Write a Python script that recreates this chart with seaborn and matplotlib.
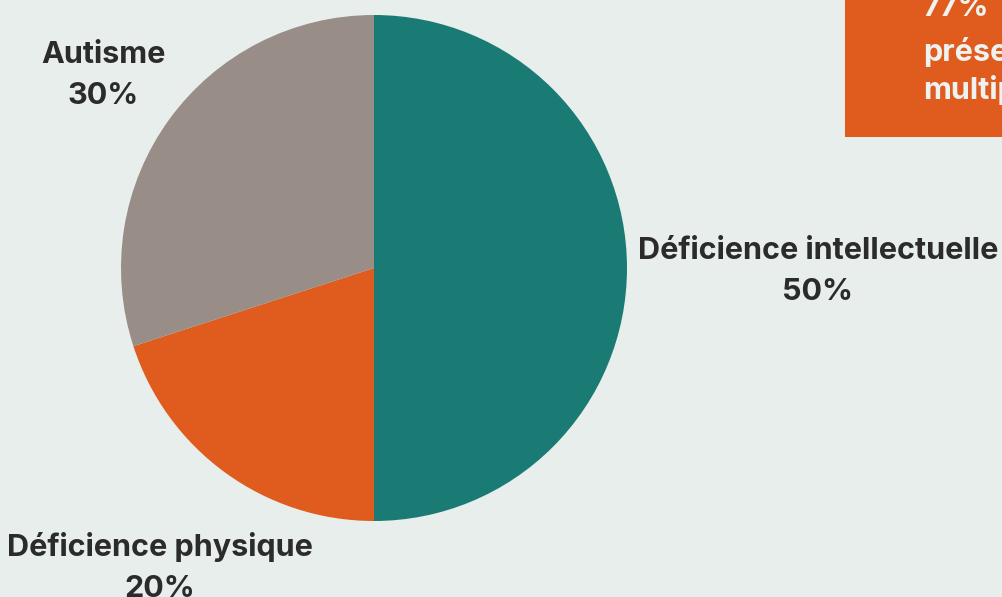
import matplotlib
matplotlib.use("Agg")
import matplotlib.pyplot as plt
import seaborn as sns
from matplotlib.patches import Rectangle

categories = ["Déficience intellectuelle", "Déficience physique", "Autisme"]
values = [50, 20, 30]
pct_labels = ["50%", "20%", "30%"]
colors = ["#1A7A74", "#E05C1E", "#998D87"]
box_lines = ["77%", "présentent", "multiples"]

sns.set_theme(style="white")
plt.rcParams['font.family'] = ['Inter', 'DejaVu Sans']

BG = "#E8EEEC"
TXT = "#2B2B2B"
W, H = 1003, 597
FS = 22

fig = plt.figure(figsize=(W / 100, H / 100), dpi=100, facecolor=BG)
ax = fig.add_axes([0, 0, 1, 1])
ax.set_facecolor(BG)

cx, cy, r = 374, H - 268, 253
ax.pie(values, colors=colors, startangle=90, counterclock=False,
       center=(cx, cy), radius=r, frame=True,
       wedgeprops=dict(linewidth=0))
ax.set_xlim(0, W)
ax.set_ylim(0, H)
ax.set_aspect("equal")
ax.axis("off")

def label(x, y, name, pct):
    ax.text(x, H - y, name, ha="center", va="baseline", fontsize=FS,
            fontweight="bold", color=TXT)
    ax.text(x, H - y - 41, pct, ha="center", va="baseline", fontsize=FS,
            fontweight="bold", color=TXT)

label(818, 259, categories[0], pct_labels[0])
label(160, 556, categories[1], pct_labels[1])
label(103, 63, categories[2], pct_labels[2])

ax.add_patch(Rectangle((845, H - 137), 300, 200, facecolor="#E05C1E",
                       edgecolor="none"))
for y, t in zip([16, 61, 99], box_lines):
    ax.text(923, H - y, t, ha="left", va="baseline", fontsize=FS,
            fontweight="bold", color="#EEF2F0")

fig.savefig("out.png", dpi=100, facecolor=BG)
